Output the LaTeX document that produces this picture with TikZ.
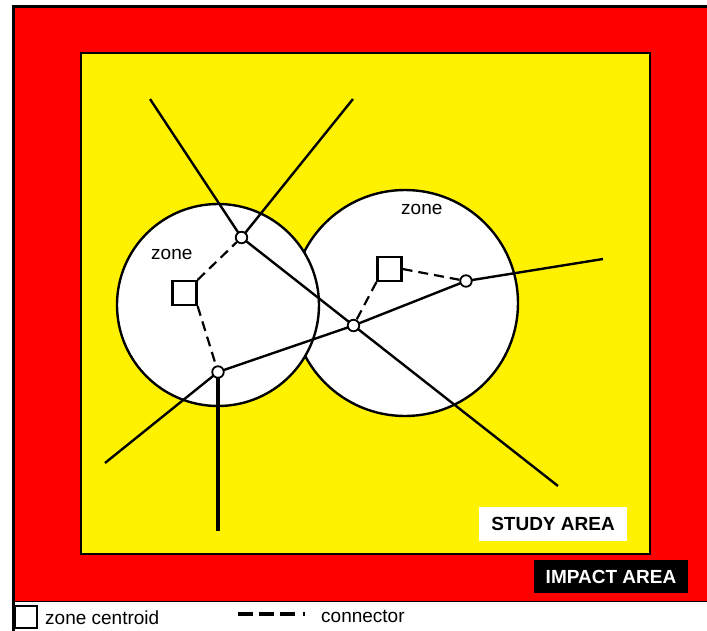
\documentclass[tikz,border=0pt]{standalone}
\usepackage{fontspec}
\setmainfont{Liberation Sans}
\pgfdeclarelayer{bg}
\pgfdeclarelayer{lines}
\pgfsetlayers{bg,lines,main}
\begin{document}
\begin{tikzpicture}[x=1pt,y=-1pt,
  zonecirc/.style={circle,draw=black,fill=white,line width=2.4pt,inner sep=0pt},
  junction/.style={circle,draw=black,fill=white,line width=1.8pt,inner sep=0pt,minimum size=11.5pt},
  centroid/.style={rectangle,draw=black,fill=white,line width=2.2pt,inner sep=0pt,minimum size=24pt},
  road/.style={line width=2.4pt,line join=round},
  conn/.style={line width=2.2pt,dash pattern=on 10pt off 6pt},
  lbl/.style={font=\fontsize{19}{21}\selectfont,inner sep=0pt}]
\useasboundingbox (0,0) rectangle (707,630);
\begin{pgfonlayer}{bg}
\fill[white] (-4,-4) rectangle (712,634);
% outer impact area
\fill[red] (13,6) rectangle (712,601);
\draw[line width=3pt] (13,634) -- (13,6) -- (712,6);
\draw[line width=1pt] (13,601) -- (712,601);
% study area
\draw[line width=2.5pt,fill=yellow] (81,53) rectangle (650,554);
% zones
\node[zonecirc,minimum size=226pt] (Z2) at (405,303) {};
\node[zonecirc,minimum size=202pt] (Z1) at (218,305) {};
\end{pgfonlayer}
% junctions and centroids
\node[junction] (A) at (241.5,237.5) {};
\node[junction] (B) at (353.5,325.5) {};
\node[junction] (C) at (218,372) {};
\node[junction] (D) at (466,281) {};
\node[centroid] (S1) at (184.5,293) {};
\node[centroid] (S2) at (389.5,269) {};
% free ends
\coordinate (e1) at (150,99);
\coordinate (e2) at (353,99);
\coordinate (e3) at (558,486);
\coordinate (e4) at (105,463);
\coordinate (e5) at (603,259);
\coordinate (e6) at (218,531);
\begin{pgfonlayer}{lines}
\draw[road] (e1) -- (A.center) -- (B.center) -- (e3);
\draw[road] (e2) -- (A.center);
\draw[road] (e4) -- (C.center) -- (B.center) -- (D.center) -- (e5);
\draw[line width=3.4pt] (C.center) -- (e6);
\draw[conn] (S1.north east) -- (A);
\draw[conn] (S1.south east) -- (C);
\draw[conn] (S2.south west) -- (B);
\draw[conn] (S2.east) -- (D);
\end{pgfonlayer}
% zone labels
\node[lbl,anchor=base west] (L1) at (151,259) {zone};
\node[lbl,anchor=base west] (L2) at (401,214) {zone};
% area labels
\node[rectangle,fill=white,minimum width=148pt,minimum height=34pt,font=\fontsize{19}{21}\selectfont\bfseries,inner sep=0pt] (SA) at (553,524) {STUDY AREA};
\node[rectangle,fill=black,text=white,minimum width=154pt,minimum height=33pt,font=\fontsize{19}{21}\selectfont\bfseries,inner sep=0pt] (IA) at (611,576.5) {IMPACT AREA};
% legend
\node[rectangle,draw=black,fill=white,line width=2pt,inner sep=0pt,minimum width=22pt,minimum height=22pt] (LS) at (26,616.5) {};
\node[lbl,anchor=base west] (LT1) at (45,624) {zone centroid};
\coordinate (d1) at (238,614);
\coordinate (d2) at (309,614);
\draw[line width=3.5pt,dash pattern=on 15pt off 6pt on 15pt off 6pt on 15pt off 8pt on 1.5pt off 50pt] (d1) -- (d2);
\node[lbl,anchor=base west] (LT2) at (321,622) {connector};
\end{tikzpicture}
\end{document}
